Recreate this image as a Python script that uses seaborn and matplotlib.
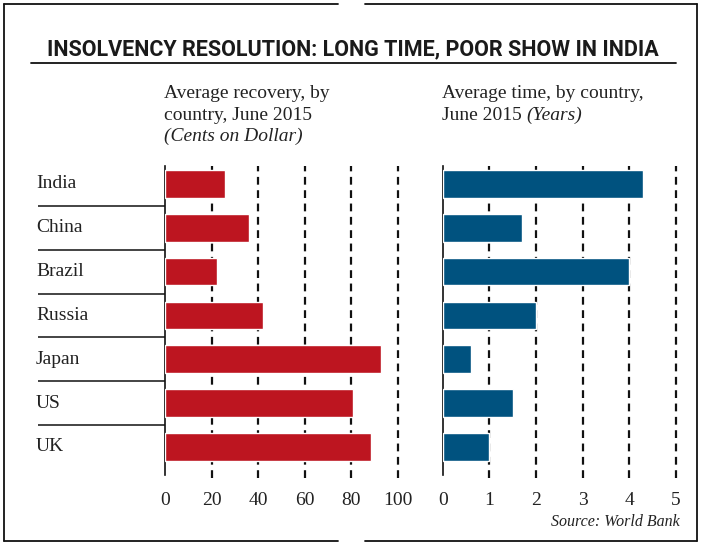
import numpy as np
import pandas as pd
import matplotlib
matplotlib.use("Agg")
import matplotlib.pyplot as plt
import seaborn as sns
from matplotlib.lines import Line2D

countries = ["India", "China", "Brazil", "Russia", "Japan", "US", "UK"]
recovery = [25.7, 36.2, 22.5, 42.0, 92.9, 80.8, 88.3]   # cents on dollar
years = [4.3, 1.7, 4.0, 2.0, 0.6, 1.5, 1.0]              # years
recovery_ticks = [0, 20, 40, 60, 80, 100]
year_ticks = [0, 1, 2, 3, 4, 5]

red = "#bd1520"
blue = "#00527f"

df = pd.DataFrame({"country": countries, "recovery": recovery, "years": years})

sns.set_style("white")
plt.rcParams["font.family"] = ["Liberation Serif", "DejaVu Serif"]

W, H = 703, 544
fig = plt.figure(figsize=(W / 100, H / 100), dpi=100)


def px(x0, y0, x1, y1):
    # pixel box (top-left origin) -> figure fraction rect
    return [x0 / W, 1 - y1 / H, (x1 - x0) / W, (y1 - y0) / H]


ax1 = fig.add_axes(px(165, 166, 398, 475))
ax2 = fig.add_axes(px(442.7, 166, 675.7, 475))

sns.barplot(data=df, x="recovery", y="country", color=red, width=0.63,
            saturation=1, ax=ax1, zorder=3)
sns.barplot(data=df, x="years", y="country", color=blue, width=0.63,
            saturation=1, ax=ax2, zorder=3)

for ax, ticks, top in [(ax1, recovery_ticks, 100), (ax2, year_ticks, 5)]:
    ax.set_xlim(0, top)
    ax.set_ylim(6.64, -0.41)
    for t in ticks[1:]:
        ax.axvline(t, ymin=-0.01, color="#111111", lw=1.6, ls=(0, (3.5, 2.5)),
                   zorder=1, clip_on=False)
    ax.set_xticks(ticks)
    ax.set_xticklabels([str(t) for t in ticks], fontsize=14, color="#222222")
    ax.tick_params(axis="x", length=0, pad=12)
    ax.set_yticks([])
    ax.set_xlabel("")
    ax.set_ylabel("")
    for s in ["top", "right", "bottom"]:
        ax.spines[s].set_visible(False)
    ax.spines["left"].set_color("#111111")
    ax.spines["left"].set_linewidth(1.2)
    ax.set_facecolor("none")

# country labels and row separators
trans = ax1.get_yaxis_transform()
for i, c in enumerate(countries):
    ax1.text((36 - 165) / 233, i, c, transform=trans, ha="left", va="center",
             fontsize=14, color="#222222")
ax1.hlines(np.arange(0.5, len(countries) - 1), (38 - 165) / 233, 0,
           transform=trans, color="#111111", lw=1.1, clip_on=False)

# headers
hdr = dict(fontsize=14, color="#222222", va="baseline")
fig.text(164 / W, 1 - 98 / H, "Average recovery, by", **hdr)
fig.text(164 / W, 1 - 120 / H, "country, June 2015", **hdr)
fig.text(164 / W, 1 - 141 / H, "(Cents on Dollar)", style="italic", **hdr)
fig.text(442 / W, 1 - 98 / H, "Average time, by country,", **hdr)
june = fig.text(442 / W, 1 - 120 / H, "June 2015", **hdr)
renderer = fig.canvas.get_renderer()
jx = june.get_window_extent(renderer).x1
fig.text((jx + 5) / W, 1 - 120 / H, "(Years)", style="italic", **hdr)

# title, shrunk to the width of the original headline
title = "INSOLVENCY RESOLUTION: LONG TIME, POOR SHOW IN INDIA"
tt = fig.text(353 / W, 1 - 55 / H, title, ha="center", va="baseline",
              family=["Roboto", "DejaVu Sans"], fontweight="bold", fontsize=26,
              color="#1a1a1a")
tw = tt.get_window_extent(renderer).width
if tw > 615:
    tt.set_fontsize(26 * 613 / tw)
fig.add_artist(Line2D([31 / W, 676 / W], [1 - 62.5 / H] * 2, color="#111111", lw=1.3))

# source
fig.text(680 / W, 1 - 526 / H, "Source: World Bank", ha="right", va="baseline",
         fontsize=11.5, style="italic", color="#222222")

# frame with the small gaps top and bottom
bx0, bx1, by0, by1 = 4, 697, 3.5, 540.5
for xs, ys in [([bx0, 338], [by0, by0]), ([365, bx1], [by0, by0]),
               ([bx0, 338], [by1, by1]), ([365, bx1], [by1, by1]),
               ([bx0, bx0], [by0, by1]), ([bx1, bx1], [by0, by1])]:
    fig.add_artist(Line2D([x / W for x in xs], [1 - y / H for y in ys],
                          color="#111111", lw=1.3))

fig.savefig("out.png", dpi=100)
